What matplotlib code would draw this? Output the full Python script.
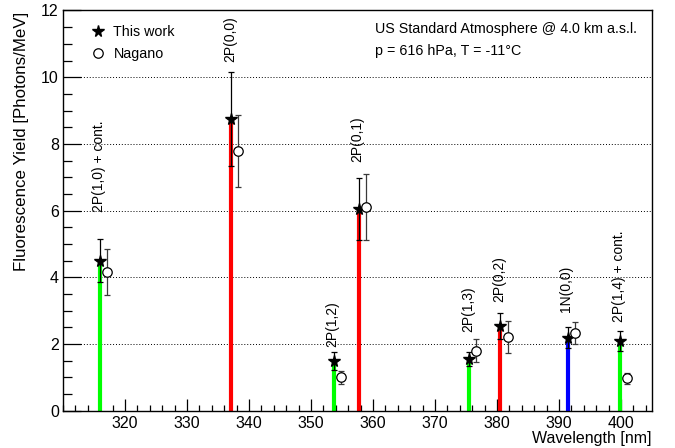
import matplotlib
matplotlib.use("Agg")
import matplotlib.pyplot as plt
from matplotlib.ticker import MultipleLocator

plt.rcParams['font.family'] = ['Liberation Sans', 'DejaVu Sans']

# ---- data ----
bands = ["2P(1,0) + cont.", "2P(0,0)", "2P(1,2)", "2P(0,1)",
         "2P(1,3)", "2P(0,2)", "1N(0,0)", "2P(1,4) + cont."]
wl_this = [316.0, 337.1, 353.7, 357.7, 375.5, 380.5, 391.4, 399.8]
y_this = [4.50, 8.76, 1.49, 6.05, 1.54, 2.54, 2.19, 2.08]
err_this = [0.64, 1.41, 0.28, 0.94, 0.21, 0.38, 0.32, 0.30]
wl_nagano = [317.1, 338.2, 354.9, 358.9, 376.6, 381.7, 392.6, 400.9]
y_nagano = [4.15, 7.79, 1.00, 6.10, 1.80, 2.21, 2.32, 0.97]
err_nagano = [0.69, 1.07, 0.20, 0.99, 0.35, 0.48, 0.33, 0.17]
band_colors = ["#00ff00", "#ff0000", "#00ff00", "#ff0000",
               "#00ff00", "#ff0000", "#0000ff", "#00ff00"]
# label baseline heights (layout)
label_y = [5.96, 10.46, 1.92, 7.47, 2.37, 3.27, 2.97, 2.67]

fig = plt.figure(figsize=(6.75, 4.48), dpi=100)
ax = fig.add_axes([63/675, 1-410.7/448, 589/675, 400.2/448])

ax.set_xlim(310, 405)
ax.set_ylim(0, 12)

# grid
ax.yaxis.grid(True, which='major', linestyle=(0, (1, 2)), color='black', linewidth=0.7)
ax.set_axisbelow(True)

# bars
ax.vlines(wl_this, 0, y_this, colors=band_colors, linewidth=3.0, zorder=2)

# error bars
ax.errorbar(wl_nagano, y_nagano, yerr=err_nagano, fmt='none', ecolor='#3a3a3a',
            elinewidth=0.9, capsize=2.5, capthick=0.9, zorder=3)
ax.errorbar(wl_this, y_this, yerr=err_this, fmt='none', ecolor='black',
            elinewidth=0.9, capsize=2.5, capthick=0.9, zorder=3)

ax.plot(wl_this, y_this, linestyle='none', marker='*', markersize=8.5,
        color='black', label='This work', zorder=4)
ax.plot(wl_nagano, y_nagano, linestyle='none', marker='o', markersize=6.8,
        markerfacecolor='white', markeredgecolor='black', markeredgewidth=0.9,
        label='Nagano', zorder=4)

for name, x, ly in zip(bands, wl_this, label_y):
    ax.text(x - 0.2, ly, name, rotation=90, ha='center', va='bottom', fontsize=10.0)

# ticks
ax.xaxis.set_major_locator(MultipleLocator(10))
ax.xaxis.set_minor_locator(MultipleLocator(2))
ax.yaxis.set_major_locator(MultipleLocator(2))
ax.yaxis.set_minor_locator(MultipleLocator(0.5))
ax.tick_params(which='both', direction='in', top=False, right=False, labelsize=11.5)
ax.tick_params(axis='y', which='major', length=13, width=0.9, pad=3)
ax.tick_params(axis='y', which='minor', length=6.5, width=0.9)
ax.tick_params(axis='x', which='major', length=9, width=0.9, pad=4)
ax.tick_params(axis='x', which='minor', length=4.5, width=0.9)
ax.set_xticks([320, 330, 340, 350, 360, 370, 380, 390, 400])
for s in ax.spines.values():
    s.set_linewidth(1.0)

# legend
ax.legend(loc='upper left', bbox_to_anchor=(0.025, 0.995), frameon=False,
          fontsize=10.3, handlelength=1.0, handletextpad=0.6, labelspacing=0.55,
          numpoints=1)

ax.text(0.53, 0.953, "US Standard Atmosphere @ 4.0 km a.s.l.", transform=ax.transAxes,
        ha='left', va='center', fontsize=10.3)
ax.text(0.53, 0.898, "p = 616 hPa, T = -11\u00b0C", transform=ax.transAxes,
        ha='left', va='center', fontsize=10.3)

fig.text(652/675, 1-438/448, "Wavelength [nm]", ha='right', va='center', fontsize=11.5)
fig.text(21.7/675, 1-12/448, "Fluorescence Yield [Photons/MeV]", rotation=90,
         ha='center', va='top', fontsize=12.2)

fig.savefig("out.png", dpi=100)
